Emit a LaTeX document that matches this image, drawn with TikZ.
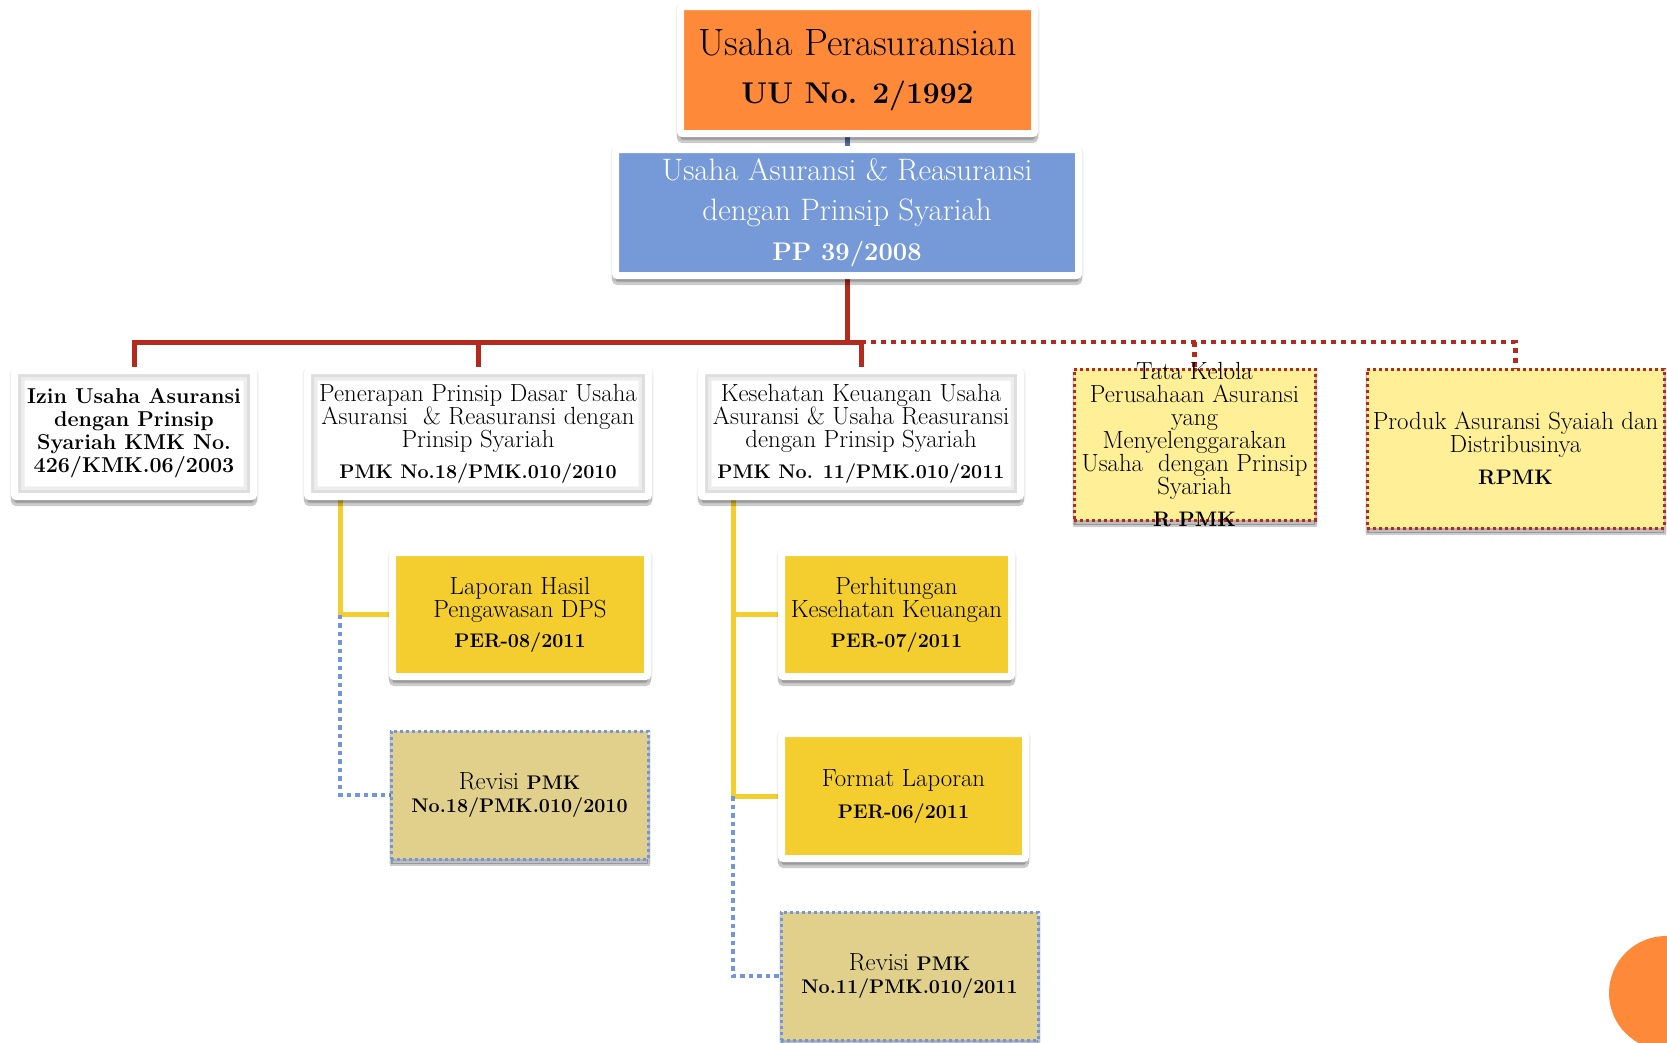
\documentclass[tikz,border=0pt]{standalone}
\usetikzlibrary{shadows}
\definecolor{cOrange}{RGB}{254,137,56}
\definecolor{cBlue}{RGB}{118,153,215}
\definecolor{cYel}{RGB}{244,205,46}
\definecolor{cKhaki}{RGB}{224,208,140}
\definecolor{cLight}{RGB}{255,240,152}
\definecolor{cRed}{RGB}{180,42,28}
\definecolor{cBDot}{RGB}{112,150,224}
\definecolor{cTop}{RGB}{84,110,170}
\newcommand{\boldsmall}{\bfseries\fontsize{19.7}{23}\selectfont}
\pgfdeclarelayer{bg}
\pgfsetlayers{bg,main}
\begin{document}
\begin{tikzpicture}[x=1pt,y=-1pt,
  shad/.style={general shadow={solid, fill=black, draw=black, line width=10pt, opacity=0.06, shadow yshift=-2pt},
               general shadow={solid, fill=black, draw=black, line width=7pt, opacity=0.2, shadow yshift=-6pt}},
  dshad/.style={general shadow={solid, fill=black, draw=black, line width=5pt, opacity=0.07, shadow yshift=-2pt},
               general shadow={solid, fill=black, draw=black, line width=3pt, opacity=0.2, shadow yshift=-5pt}},
  frame/.style={shad, draw=white, line width=7pt, rounded corners=2pt, inner sep=0pt, outer sep=0pt, align=center},
  whitebox/.style={frame, fill=white,
    path picture={\draw[black!7, line width=20pt] (path picture bounding box.south west) rectangle (path picture bounding box.north east);
                  \draw[black!13, line width=13pt] (path picture bounding box.south west) rectangle (path picture bounding box.north east);}},
  dotbox/.style={dshad, line width=3pt, dash pattern=on 3pt off 3pt, inner sep=0pt, outer sep=0pt, align=center},
  body/.style={font=\fontsize{24.8}{23}\selectfont},
  rline/.style={draw=cRed, line width=5pt},
  rdot/.style={draw=cRed, line width=4.5pt, dash pattern=on 5pt off 5pt},
  yline/.style={draw=cYel, line width=5pt},
  bdot/.style={draw=cBDot, line width=4.5pt, dash pattern=on 4.5pt off 4pt}]
\path[use as bounding box] (0,0) rectangle (1667,1042);

% top boxes
\node[frame, fill=cOrange, minimum width=354pt, minimum height=127pt,
      font=\fontsize{38}{48}\selectfont] (uu) at (857.5,70)
  {Usaha Perasuransian\\{\bfseries\fontsize{30}{48}\selectfont UU No. 2/1992}};
\node[frame, fill=cBlue, text=white, minimum width=463pt, minimum height=126pt,
      font=\fontsize{31}{40}\selectfont] (pp) at (847,212.5)
  {Usaha Asuransi \& Reasuransi\\dengan Prinsip Syariah\\{\bfseries\fontsize{25.5}{40}\selectfont PP 39/2008}};

% second row
\node[whitebox, minimum width=239pt, minimum height=126pt,
      font=\bfseries\fontsize{21.5}{23}\selectfont] (izin) at (134,433.5)
  {Izin Usaha Asuransi\\dengan Prinsip\\Syariah KMK No.\\426/KMK.06/2003};
\node[whitebox, body, minimum width=341pt, minimum height=126pt] (pen) at (478,433.5)
  {Penerapan Prinsip Dasar Usaha\\Asuransi \ \& Reasuransi dengan\\Prinsip Syariah\\[8pt]{\boldsmall PMK No.18/PMK.010/2010}};
\node[whitebox, body, minimum width=319pt, minimum height=126pt] (kes) at (861,433.5)
  {Kesehatan Keuangan Usaha\\Asuransi \& Usaha Reasuransi\\dengan Prinsip Syariah\\[8pt]{\boldsmall PMK No. 11/PMK.010/2011}};
\node[dotbox, draw=cRed, fill=cLight, minimum width=241pt, minimum height=151pt] (tata) at (1194.5,444.5) {};
\node[body, align=center, inner sep=0pt] (tataT) at (tata.center)
  {Tata Kelola\\Perusahaan Asuransi\\yang\\Menyelenggarakan\\Usaha \ dengan Prinsip\\Syariah\\[9pt]{\bfseries\fontsize{21}{23}\selectfont R PMK}};
\node[dotbox, body, draw=cRed, fill=cLight, minimum width=297pt, minimum height=159pt] (prod) at (1515.5,448.5)
  {Produk Asuransi Syaiah dan\\Distribusinya\\[9pt]{\bfseries\fontsize{21}{23}\selectfont RPMK}};

% third level
\node[frame, body, fill=cYel, minimum width=255pt, minimum height=124pt] (lap) at (520,614.5)
  {Laporan Hasil\\Pengawasan DPS\\[7pt]{\boldsmall PER-08/2011}};
\node[frame, body, fill=cYel, minimum width=230pt, minimum height=124pt] (per) at (896.5,614.5)
  {Perhitungan\\Kesehatan Keuangan\\[7pt]{\boldsmall PER-07/2011}};
\node[frame, body, fill=cYel, minimum width=244pt, minimum height=125pt] (fmt) at (903.5,796)
  {Format Laporan\\[9pt]{\boldsmall PER-06/2011}};
\node[dotbox, body, draw=cBDot, fill=cKhaki, minimum width=257pt, minimum height=128pt] (rev1) at (519.5,795)
  {Revisi {\boldsmall PMK}\\{\boldsmall No.18/PMK.010/2010}};
\node[dotbox, body, draw=cBDot, fill=cKhaki, minimum width=257pt, minimum height=128pt] (rev2) at (909.5,976)
  {Revisi {\boldsmall PMK}\\{\boldsmall No.11/PMK.010/2011}};

% connectors
\begin{pgfonlayer}{bg}
\coordinate (bus) at (847,342);
\coordinate (yl) at (340,496);
\coordinate (yr) at (733,496);
\draw[draw=cTop, line width=5pt] (pp.north) -- (pp.north |- uu.south);
\draw[rline] (pp.south) -- (bus);
\draw[rline] (izin.north) |- (bus) -| (kes.north);
\draw[rline] (pen.north) -- (pen.north |- bus);
\draw[rdot] (kes.north |- bus) -| (prod.north);
\draw[rdot] (tata.north |- bus) -- (tata.north);
\draw[yline] (yl) |- (lap.west);
\draw[bdot] (yl |- lap.west) |- (rev1.west);
\draw[yline] (yr) |- (fmt.west);
\draw[yline] (yr |- per.west) -- (per.west);
\draw[bdot] (yr |- fmt.west) |- (rev2.west);
\end{pgfonlayer}

% corner circle
\begin{scope}
\clip (0,0) rectangle (1667,1042);
\fill[cOrange] (1666,993) circle (57pt);
\end{scope}
\end{tikzpicture}
\end{document}
